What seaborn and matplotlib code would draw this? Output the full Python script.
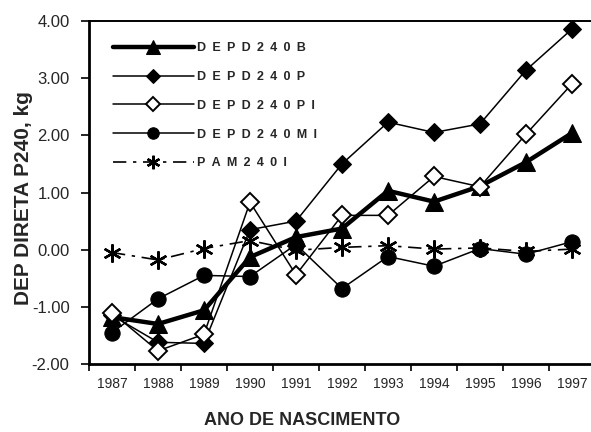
import numpy as np
import pandas as pd
import matplotlib
matplotlib.use("Agg")
import matplotlib.pyplot as plt
import seaborn as sns

years = ["1987", "1988", "1989", "1990", "1991", "1992", "1993", "1994", "1995", "1996", "1997"]
dep_b = [-1.18, -1.30, -1.06, -0.13, 0.22, 0.37, 1.03, 0.84, 1.11, 1.53, 2.04]
dep_p = [-1.15, -1.62, -1.64, 0.35, 0.50, 1.50, 2.23, 2.05, 2.20, 3.14, 3.86]
dep_pi = [-1.10, -1.77, -1.48, 0.83, -0.44, 0.60, 0.60, 1.28, 1.10, 2.02, 2.90]
dep_mi = [-1.45, -0.86, -0.45, -0.47, 0.09, -0.68, -0.12, -0.29, 0.02, -0.08, 0.14]
pam = [-0.05, -0.18, 0.02, 0.16, -0.01, 0.04, 0.07, 0.01, 0.03, -0.03, 0.01]
y_ticks = [-2.0, -1.0, 0.0, 1.0, 2.0, 3.0, 4.0]

labels = ["DEPD240B", "DEPD240P", "DEPD240PI", "DEPD240MI", "PAM240I"]

sns.set_theme(style="ticks")
plt.rcParams["font.family"] = ["Liberation Sans", "DejaVu Sans"]

fig = plt.figure(figsize=(5.91, 4.32), dpi=100)
ax = fig.add_axes([89 / 591, 68 / 432, 506 / 591, 343 / 432])

xpos = np.arange(len(years))
df = pd.DataFrame({"x": xpos, "b": dep_b, "p": dep_p, "pi": dep_pi, "mi": dep_mi, "pam": pam})

sp = "\u2002"
def spaced(s):
    return sp.join(list(s))

styles = [
    ("b", dict(marker="^", markersize=13, linewidth=3.2, color="black", markerfacecolor="black",
               markeredgecolor="black")),
    ("p", dict(marker="D", markersize=9.5, linewidth=1.1, color="black", markerfacecolor="black",
               markeredgecolor="black")),
    ("pi", dict(marker="D", markersize=9.5, linewidth=1.1, color="black", markerfacecolor="white",
                markeredgecolor="black", markeredgewidth=1.4)),
    ("mi", dict(marker="o", markersize=11, linewidth=1.1, color="black", markerfacecolor="black",
                markeredgecolor="black")),
    ("pam", dict(marker=(6, 2, 0), markersize=13, linewidth=1.2, color="black",
                 markeredgecolor="black", markeredgewidth=1.7, linestyle=(0, (8, 4, 2, 4)))),
]

for (col, kw), lab in zip(styles, labels):
    sns.lineplot(data=df, x="x", y=col, ax=ax, label=spaced(lab), **kw)

ax.set_xlim(-0.5, len(years) - 0.5)
ax.set_ylim(-2, 4)
ax.set_yticks(y_ticks)
ax.set_yticklabels([f"{v:.2f}" for v in y_ticks], fontsize=12)
ax.set_xticks(xpos)
ax.set_xticklabels(years, fontsize=10)
ax.set_xticks(np.arange(-0.5, len(years)), minor=True)
ax.tick_params(axis="x", which="major", length=0, pad=9)
ax.tick_params(axis="x", which="minor", length=5, width=1.2, direction="out", color="black")
ax.tick_params(axis="y", which="major", length=6, width=1.2, direction="out", pad=8, color="black")

ax.spines["right"].set_visible(False)
ax.spines["left"].set_linewidth(2.0)
ax.spines["bottom"].set_linewidth(2.0)
ax.spines["top"].set_linewidth(1.4)
for s in ax.spines.values():
    s.set_color("black")

ax.set_xlabel("ANO DE NASCIMENTO", fontsize=13, fontweight="bold")
ax.set_ylabel("DEP DIRETA P240, kg", fontsize=15, fontweight="bold")
ax.xaxis.set_label_coords(0.421, -0.14)
ax.yaxis.set_label_coords(-0.111, 0.484)

leg = ax.legend(loc="upper left", bbox_to_anchor=(0.047, 0.938), frameon=False,
                borderaxespad=0, borderpad=0, handlelength=6.5, handletextpad=0.2,
                labelspacing=1.34, markerscale=0.75,
                prop={"size": 9, "weight": "bold", "family": ["Liberation Sans", "DejaVu Sans"]})

fig.savefig("out.png", dpi=100)
